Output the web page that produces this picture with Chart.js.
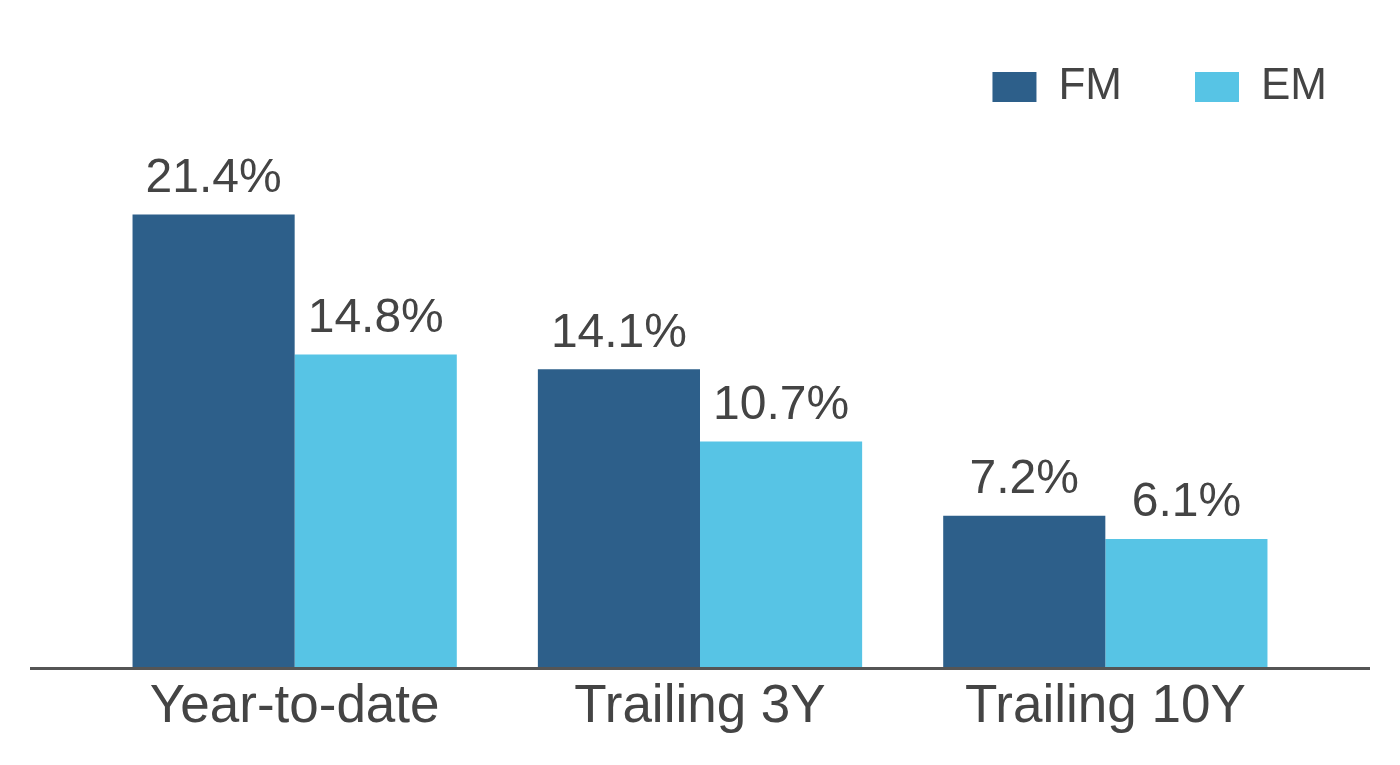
<!DOCTYPE html>
<html>
<head>
<meta charset="utf-8">
<script src="https://cdn.jsdelivr.net/npm/chart.js@4"></script>
<style>
  html, body { margin: 0; padding: 0; background: #fff; }
  #wrap { width: 1400px; height: 765px; }
</style>
</head>
<body>
<div id="wrap"><canvas id="barChart"></canvas></div>
<script>
const categories = ['Year-to-date', 'Trailing 3Y', 'Trailing 10Y'];
const fmValues = [21.4, 14.1, 7.2];
const emValues = [14.8, 10.7, 6.1];

const textColor = '#444444';
const fontFamily = '"Liberation Sans", Arial, sans-serif';

// value labels above each bar
const barLabels = {
  id: 'barLabels',
  afterDatasetsDraw(chart) {
    const ctx = chart.ctx;
    ctx.save();
    ctx.fillStyle = textColor;
    ctx.font = '48px ' + fontFamily;
    ctx.textAlign = 'center';
    ctx.textBaseline = 'bottom';
    chart.data.datasets.forEach((ds, i) => {
      chart.getDatasetMeta(i).data.forEach((bar, j) => {
        ctx.fillText(ds.data[j].toFixed(1) + '%', bar.x, bar.y - 12);
      });
    });
    ctx.restore();
  }
};

// baseline across the full width
const baseLine = {
  id: 'baseLine',
  afterDatasetsDraw(chart) {
    const ctx = chart.ctx;
    const y = chart.scales.y.getPixelForValue(0);
    ctx.save();
    ctx.strokeStyle = '#555555';
    ctx.lineWidth = 3;
    ctx.beginPath();
    ctx.moveTo(30, y);
    ctx.lineTo(1370, y);
    ctx.stroke();
    ctx.restore();
  }
};

// empty side axes used only as margins
const sideAxis = (pos) => ({
  position: pos,
  display: true,
  min: 0,
  max: 25.9,
  grid: { display: false, drawTicks: false },
  border: { display: false },
  ticks: { display: false },
  afterFit(scale) { scale.width = 92; }
});

const ctx = document.getElementById('barChart').getContext('2d');
new Chart(ctx, {
  type: 'bar',
  data: {
    labels: categories,
    datasets: [
      { label: 'FM', data: fmValues, backgroundColor: '#2D5F8A' },
      { label: 'EM', data: emValues, backgroundColor: '#57C4E5' }
    ]
  },
  options: {
    responsive: true,
    maintainAspectRatio: false,
    animation: false,
    layout: { padding: { top: -8, left: 0, right: 0, bottom: 19 } },
    datasets: { bar: { categoryPercentage: 0.8, barPercentage: 1.0 } },
    plugins: {
      tooltip: { enabled: false },
      legend: {
        position: 'top',
        align: 'end',
        labels: {
          boxWidth: 44,
          boxHeight: 30,
          padding: 73,
          color: textColor,
          font: { size: 44, family: fontFamily }
        }
      }
    },
    scales: {
      x: {
        grid: { display: false, drawTicks: false },
        border: { display: false },
        ticks: {
          color: textColor,
          padding: 7,
          font: { size: 53, family: fontFamily }
        }
      },
      y: sideAxis('left'),
      y2: sideAxis('right')
    }
  },
  plugins: [barLabels, baseLine]
});
</script>
</body>
</html>
